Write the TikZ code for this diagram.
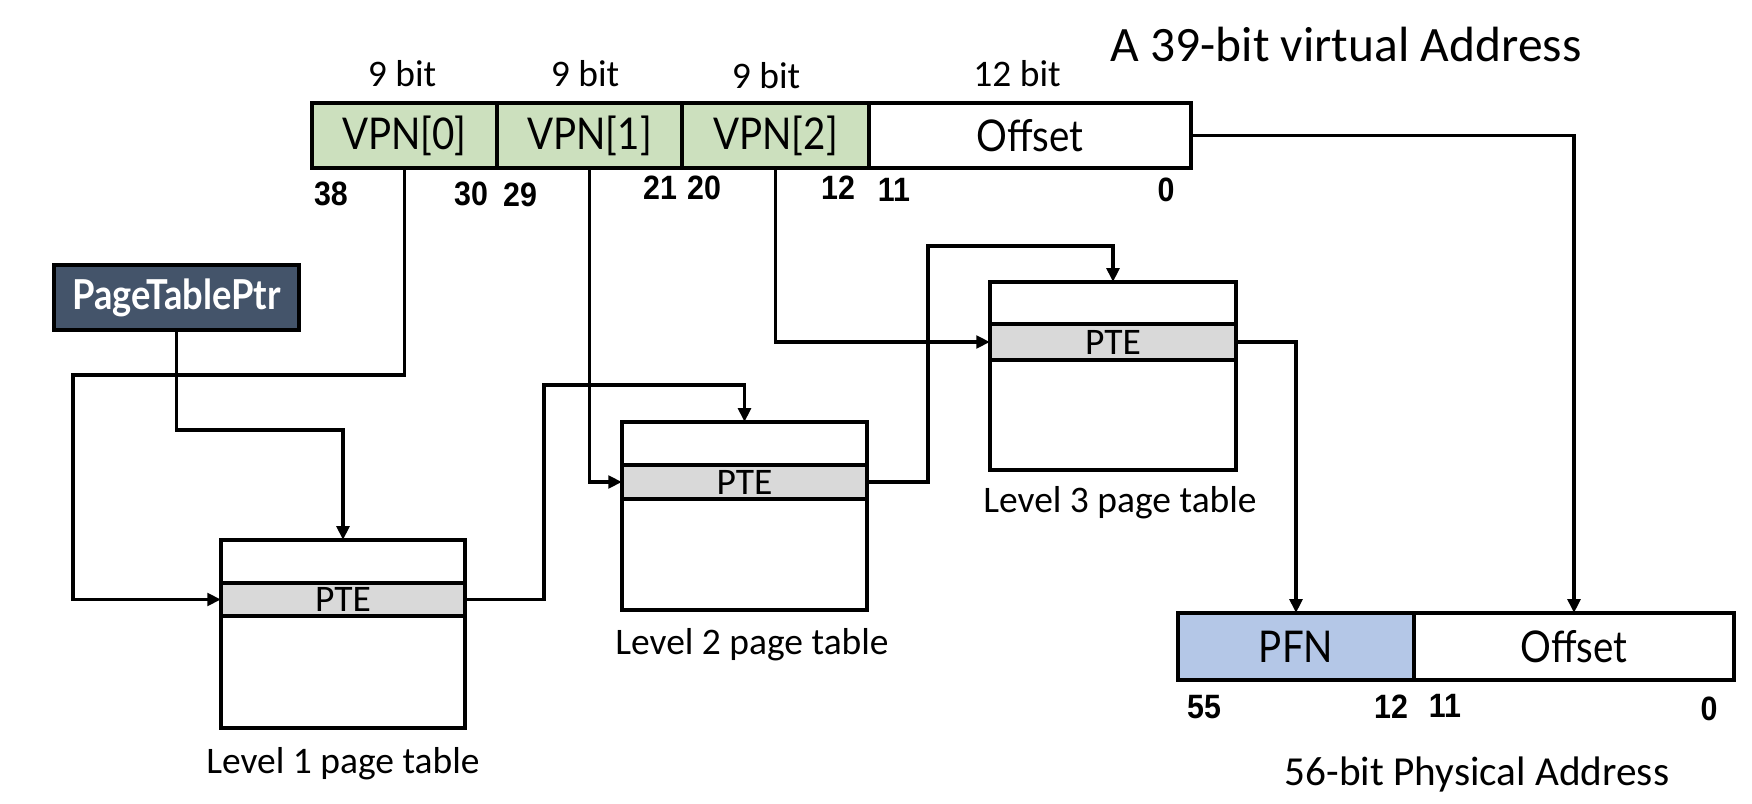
\documentclass[tikz,border=0pt]{standalone}
\usepackage{fontspec}
\setmainfont{Carlito}
\newfontfamily\gillf[FakeStretch=0.88]{Lato}
\newfontfamily\numf[FakeStretch=0.9]{Liberation Sans}
\usetikzlibrary{arrows.meta,fit}
\definecolor{vgreen}{HTML}{CCE0BE}
\definecolor{pgray}{HTML}{D9D9D9}
\definecolor{ptpfill}{HTML}{44546A}
\definecolor{pblue}{HTML}{B4C7E7}
\begin{document}
\begin{tikzpicture}[x=0.4pt,y=-0.4pt,
  cell/.style={draw, line width=1.45pt, inner sep=0pt, outer sep=0pt},
  boxtxt/.style={font=\gillf\fontsize{17.5}{19}\selectfont, inner sep=0pt},
  ptetxt/.style={font=\fontsize{15}{16}\selectfont, inner sep=0pt},
  lbl/.style={font=\fontsize{15}{17}\selectfont, inner sep=0pt},
  ttl/.style={font=\fontsize{19.8}{22}\selectfont, inner sep=0pt},
  num/.style={font=\numf\bfseries\fontsize{13.5}{15}\selectfont, inner sep=0pt},
  conn/.style={line width=1.4pt, -{Triangle[length=5.5pt,width=5pt]}}]
\useasboundingbox (0,0) rectangle (1752,804);

% title
\node[ttl] (title) at (1346,45) {A 39-bit virtual Address};

% virtual address
\node[cell, fill=vgreen, fit={(312,103) (497,168)}] (v0) {};
\node[cell, fill=vgreen, fit={(497,103) (682,168)}] (v1) {};
\node[cell, fill=vgreen, fit={(682,103) (869,168)}] (v2) {};
\node[cell, fill=white, fit={(869,103) (1191,168)}] (voff) {};
\node[boxtxt] (v0t) at (v0.center) {VPN[0]};
\node[boxtxt] (v1t) at (v1.center) {VPN[1]};
\node[boxtxt] (v2t) at (v2.center) {VPN[2]};
\node[boxtxt] (vofft) at (voff.center) {Offset};

\node[lbl] (w0) at (402,74) {9 bit};
\node[lbl] (w1) at (585,74) {9 bit};
\node[lbl] (w2) at (766,76) {9 bit};
\node[lbl] (w3) at (1017,74) {12 bit};

\node[num] (n38) at (331,194) {38};
\node[num] (n30) at (471,194) {30};
\node[num] (n29) at (520,195) {29};
\node[num] (n21) at (660,188) {21};
\node[num] (n20) at (704,188) {20};
\node[num] (n12) at (838,188) {12};
\node[num] (n11) at (894,190) {11};
\node[num] (n0) at (1166,190) {0};

% PageTablePtr
\node[cell, fill=ptpfill, fit={(54,265) (299,330)}] (ptp) {};
\node[text=white, font=\gillf\bfseries\fontsize{16.5}{18}\selectfont, inner sep=0pt] (ptpt) at (ptp.center) {PageTablePtr};

% Level 1
\node[cell, fill=white, fit={(221,540) (465,728)}] (l1) {};
\node[cell, fill=pgray, fit={(221,583) (465,616)}] (l1pte) {};
\node[ptetxt] (l1t) at (l1pte.center) {PTE};
\node[lbl] (l1lab) at (343,764) {Level 1 page table};

% Level 2
\node[cell, fill=white, fit={(622,422) (867,610)}] (l2) {};
\node[cell, fill=pgray, fit={(622,465) (867,499)}] (l2pte) {};
\node[ptetxt] (l2t) at (l2pte.center) {PTE};
\node[lbl] (l2lab) at (752,645) {Level 2 page table};

% Level 3
\node[cell, fill=white, fit={(990,282) (1236,470)}] (l3) {};
\node[cell, fill=pgray, fit={(990,324) (1236,360)}] (l3pte) {};
\node[ptetxt] (l3t) at (l3pte.center) {PTE};
\node[lbl] (l3lab) at (1120,503) {Level 3 page table};

% physical address
\node[cell, fill=pblue, fit={(1178,613) (1414,680)}] (pfn) {};
\node[cell, fill=white, fit={(1414,613) (1734,680)}] (poff) {};
\node[boxtxt] (pfnt) at (pfn.center) {PFN};
\node[boxtxt] (pofft) at (poff.center) {Offset};
\node[num] (p55) at (1204,707) {55};
\node[num] (p12) at (1391,707) {12};
\node[num] (p11) at (1445,706) {11};
\node[num] (p0) at (1709,709) {0};
\node[font=\fontsize{16.5}{18}\selectfont, inner sep=0pt] (plab) at (1477,775) {56-bit Physical Address};

% routing points
\coordinate (c1) at (73,375);
\coordinate (c2) at (343,430);
\coordinate (c3) at (544,385);
\coordinate (c4) at (928,246);

% connectors
\draw[conn] (v0.south) |- (c1) |- (l1pte.west);
\draw[conn] (ptp.south) |- (c2) -- (l1.north);
\draw[conn] (l1pte.east) -| (c3) -| (l2.north);
\draw[conn] (v1.south) |- (l2pte.west);
\draw[conn] (l2pte.east) -| (c4) -| (l3.north);
\draw[conn] (v2.south) |- (l3pte.west);
\draw[conn] (l3pte.east) -| (pfn.north);
\draw[conn] (voff.east) -| (poff.north);
\end{tikzpicture}
\end{document}
